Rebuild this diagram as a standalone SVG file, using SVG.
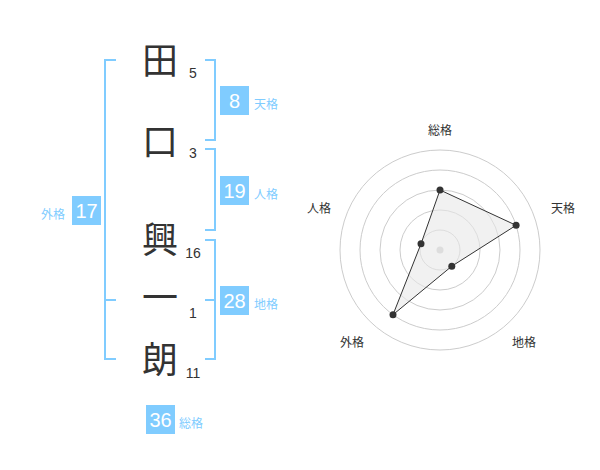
<svg xmlns="http://www.w3.org/2000/svg" width="600" height="470" viewBox="0 0 600 470">
<style>
.ch{font-family:"Noto Sans CJK JP","Noto Sans CJK SC",sans-serif;font-size:36px;fill:#333;text-anchor:middle}
.num{font-family:"Liberation Sans",Arial,sans-serif;font-size:14px;fill:#333;text-anchor:middle}
.box{fill:#80ccff}
.bn{font-family:"Liberation Sans",Arial,sans-serif;font-size:20px;fill:#fff;text-anchor:middle}
.bl{font-family:"Noto Sans CJK JP",sans-serif;font-size:12px;fill:#80ccff}
.br{fill:none;stroke:#80ccff;stroke-width:2}
.ring{fill:none;stroke:#ccc;stroke-width:1}
.rl{font-family:"Noto Sans CJK JP",sans-serif;font-size:12px;fill:#333;text-anchor:middle}
.dot{fill:#333}
</style>
<rect width="600" height="470" fill="#fff"/>
<g id="connectors">
<path class="br" d="M205,60H215V140H205"/>
<path class="br" d="M205,149H215V230H205"/>
<path class="br" d="M205,240H215V359H205M205,300H215"/>
<path class="br" d="M116,60H105V359H116M105,300H116"/>
</g>
<g id="char-1"><text class="ch" x="160" y="74">田</text><text class="num" x="193" y="78">5</text></g>
<g id="char-2"><text class="ch" x="160" y="155">口</text><text class="num" x="193" y="158">3</text></g>
<g id="char-3"><text class="ch" x="160" y="253">興</text><text class="num" x="193" y="258">16</text></g>
<g id="char-4"><text class="ch" x="160" y="311">一</text><text class="num" x="193" y="318">1</text></g>
<g id="char-5"><text class="ch" x="160" y="373">朗</text><text class="num" x="193" y="378">11</text></g>
<g id="tenkaku"><rect class="box" x="220" y="86" width="29" height="29"/><text class="bn" x="234.5" y="108">8</text><text class="bl" x="254" y="109">天格</text></g>
<g id="jinkaku"><rect class="box" x="220" y="176" width="29" height="29"/><text class="bn" x="234.5" y="198">19</text><text class="bl" x="254" y="199">人格</text></g>
<g id="chikaku"><rect class="box" x="220" y="286" width="29" height="29"/><text class="bn" x="234.5" y="308">28</text><text class="bl" x="254" y="309">地格</text></g>
<g id="gaikaku"><rect class="box" x="72" y="196" width="29" height="29"/><text class="bn" x="86.5" y="218">17</text><text class="bl" x="41" y="219">外格</text></g>
<g id="soukaku"><rect class="box" x="146" y="405" width="29" height="29"/><text class="bn" x="160.5" y="427">36</text><text class="bl" x="179" y="428">総格</text></g>
<g id="radar">
<circle class="ring" cx="440" cy="250" r="20"/>
<circle class="ring" cx="440" cy="250" r="40"/>
<circle class="ring" cx="440" cy="250" r="60"/>
<circle class="ring" cx="440" cy="250" r="80"/>
<circle class="ring" cx="440" cy="250" r="100"/>
<circle cx="440" cy="250" r="3.5" fill="#ccc"/>
<polygon points="440,190 516.1,225.3 451.8,266.2 393,314.7 421,243.8" fill="#e8e8e8" fill-opacity="0.6" stroke="#333" stroke-width="1"/>
<circle class="dot" cx="440" cy="190" r="3.5"/>
<circle class="dot" cx="516.1" cy="225.3" r="3.5"/>
<circle class="dot" cx="451.8" cy="266.2" r="3.5"/>
<circle class="dot" cx="393" cy="314.7" r="3.5"/>
<circle class="dot" cx="421" cy="243.8" r="3.5"/>
<text class="rl" x="440" y="135">総格</text>
<text class="rl" x="563" y="213">天格</text>
<text class="rl" x="524" y="347">地格</text>
<text class="rl" x="352" y="347">外格</text>
<text class="rl" x="319" y="213">人格</text>
</g>
</svg>
